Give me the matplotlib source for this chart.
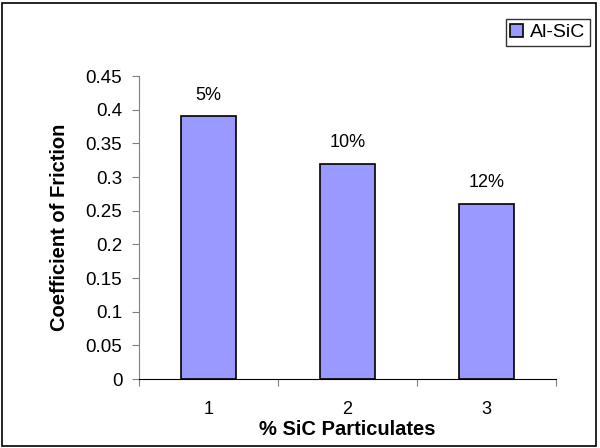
import matplotlib.pyplot as plt
from matplotlib.patches import Rectangle

plt.rcParams['font.family'] = ['Liberation Sans', 'DejaVu Sans']

categories = ['1', '2', '3']
friction = [0.39, 0.32, 0.26]
bar_labels = ['5%', '10%', '12%']
yticks = [0, 0.05, 0.1, 0.15, 0.2, 0.25, 0.3, 0.35, 0.4, 0.45]
ytick_labels = ['0', '0.05', '0.1', '0.15', '0.2', '0.25', '0.3', '0.35', '0.4', '0.45']

fig = plt.figure(figsize=(6, 4.48), dpi=100)
ax = fig.add_axes([139 / 600, 1 - 379 / 448, 417 / 600, 303 / 448])

x = range(len(categories))
bars = ax.bar(x, friction, width=0.4, color='#9999ff', edgecolor='black',
              linewidth=1.2, label='Al-SiC')
for b, lab in zip(bars, bar_labels):
    ax.annotate(lab, (b.get_x() + b.get_width() / 2, b.get_height()),
                xytext=(0, 9), textcoords='offset points',
                ha='center', va='bottom', fontsize=13)

ax.set_xlim(-0.5, 2.5)
ax.set_ylim(0, 0.45)
ax.set_yticks(yticks)
ax.set_yticklabels(ytick_labels)
# category boundaries get the tick marks, labels sit between them
ax.set_xticks([-0.5, 0.5, 1.5, 2.5])
ax.set_xticklabels([])
ax.set_xticks(list(x), minor=True)
ax.set_xticklabels(categories, minor=True)
ax.tick_params(axis='x', which='major', length=5, direction='out', color='#808080')
ax.tick_params(axis='x', which='minor', length=0, pad=16, labelsize=13)
ax.tick_params(axis='y', length=5, direction='out', color='#808080', labelsize=13.5, pad=7)

for side in ['top', 'right']:
    ax.spines[side].set_visible(False)
ax.spines['left'].set_color('#808080')
ax.spines['bottom'].set_color('black')

ax.set_ylabel('Coefficient of Friction', fontweight='bold', fontsize=14.5, labelpad=12)
ax.set_xlabel('% SiC Particulates', fontweight='bold', fontsize=14.5, labelpad=1)

leg = fig.legend(handles=[bars], labels=['Al-SiC'], loc='upper right',
                 bbox_to_anchor=(590 / 600, 1 - 19 / 448), frameon=True,
                 fancybox=False, fontsize=14, handlelength=0.65, handleheight=0.65,
                 handletextpad=0.35, borderpad=0.25, borderaxespad=0)
leg.get_frame().set_edgecolor('black')
leg.get_frame().set_linewidth(1.0)

# outer chart border
fig.patches.append(Rectangle((2 / 600, 2 / 448), 594 / 600, 443 / 448,
                             transform=fig.transFigure, fill=False,
                             edgecolor='black', linewidth=1.2))

fig.savefig('out.png', dpi=100)
